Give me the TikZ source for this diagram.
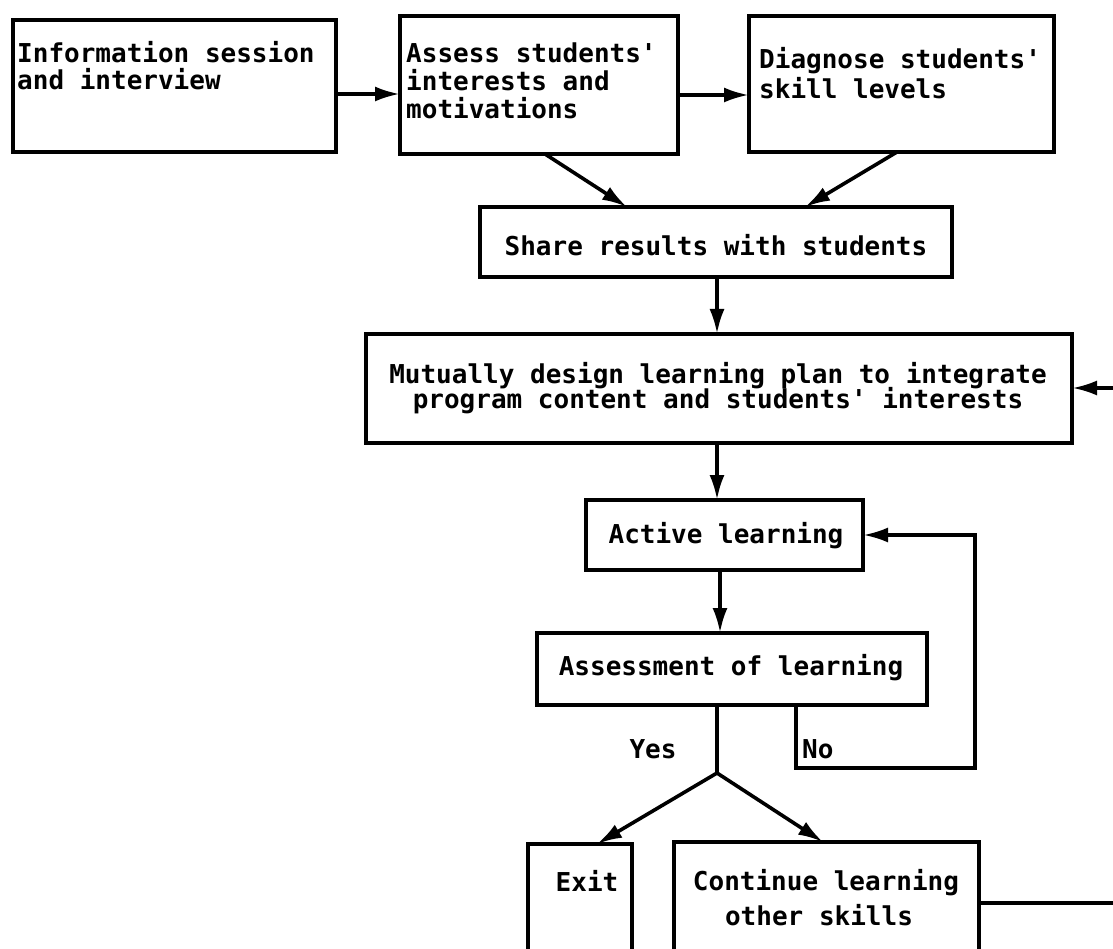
\documentclass[tikz,border=0pt]{standalone}
\usepackage{fontspec}
\newfontfamily\tw{DejaVu Sans Mono Bold}
\usetikzlibrary{arrows.meta}
\begin{document}
\begin{tikzpicture}[x=1pt,y=-1pt,
  box/.style={draw, line width=3.4pt, inner sep=0pt, outer sep=0pt, rectangle},
  txt/.style={font=\tw\fontsize{26pt}{27pt}\selectfont, inner sep=0pt, anchor=base west},
  txtc/.style={txt, anchor=base},
  arr/.style={line width=3.6pt, -{Latex[length=25pt,width=15pt]}},
  ln/.style={line width=3.4pt}]
\useasboundingbox (0,0) rectangle (1113,949);
% boxes
\node[box, minimum width=323pt, minimum height=132pt] (b1) at (174.5,86) {};
\node[box, minimum width=278pt, minimum height=138pt] (b2) at (539,85) {};
\node[box, minimum width=305pt, minimum height=136pt] (b3) at (901.5,84) {};
\node[box, minimum width=472pt, minimum height=70pt] (share) at (716,242) {};
\node[box, minimum width=706pt, minimum height=109pt] (mutual) at (719,388.5) {};
\node[box, minimum width=277pt, minimum height=70pt] (active) at (724.5,535) {};
\node[box, minimum width=390pt, minimum height=72pt] (assess) at (732,669) {};
\node[box, minimum width=104pt, minimum height=110pt] (exit) at (580,899) {};
\node[box, minimum width=305pt, minimum height=112pt] (cont) at (826.5,898) {};
% texts
\node[txt] (t1a) at (17,63) {Information session};
\node[txt] (t1b) at (17,90) {and interview};
\node[txt] (t2a) at (406,63) {Assess students'};
\node[txt] (t2b) at (406,91) {interests and};
\node[txt] (t2c) at (406,119) {motivations};
\node[txt] (t3a) at (759,69) {Diagnose students'};
\node[txt] (t3b) at (759,99) {skill levels};
\node[txtc] (ts) at (716,256) {Share results with students};
\node[txtc] (tma) at (718,383) {Mutually design learning plan to integrate};
\node[txtc] (tmb) at (718,408) {program content and students' interests};
\node[txtc] (ta) at (726,543) {Active learning};
\node[txtc] (tas) at (731,675) {Assessment of learning};
\node[txtc] (tyes) at (653,758) {Yes};
\node[txt] (tno) at (802,758) {No};
\node[txtc] (tex) at (587,891) {Exit};
\node[txtc] (tca) at (826,890) {Continue learning};
\node[txtc] (tcb) at (819,925) {other skills};
% helper coordinates
\coordinate (y12) at (0,94);
\coordinate (y23) at (0,95);
\coordinate (d2s) at (545,0);
\coordinate (d2e) at (627,0);
\coordinate (d3s) at (897,0);
\coordinate (d3e) at (805,0);
\coordinate (colx) at (717,0);
\coordinate (colx2) at (720,0);
\coordinate (redge1) at (1113,388);
\coordinate (redge2) at (1113,903);
\coordinate (split) at (717,773);
\coordinate (exitp) at (597,0);
\coordinate (contp) at (823,0);
\coordinate (nob) at (796,768);
\coordinate (nor) at (975,768);
% connectors
\draw[arr] (b1.east |- y12) -- (b2.west |- y12);
\draw[arr] (b2.east |- y23) -- (b3.west |- y23);
\draw[arr] (b2.south -| d2s) -- (share.north -| d2e);
\draw[arr] (b3.south -| d3s) -- (share.north -| d3e);
\draw[arr] (share.south -| colx) -- (mutual.north -| colx);
\draw[arr] (redge1) -- (mutual.east |- redge1);
\draw[arr] (mutual.south -| colx) -- (active.north -| colx);
\draw[arr] (active.south -| colx2) -- (assess.north -| colx2);
\draw[ln] (assess.south -| split) -- (split);
\draw[arr] (split) -- (exit.north -| exitp);
\draw[arr] (split) -- (cont.north -| contp);
\draw[arr] (assess.south -| nob) -- (nob) -- (nor) -- (nor |- active.east) -- (active.east);
\draw[ln] (cont.east |- redge2) -- (redge2);
\end{tikzpicture}
\end{document}
